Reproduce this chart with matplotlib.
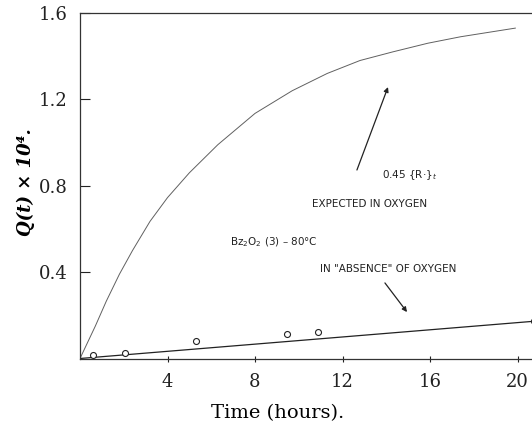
import matplotlib
matplotlib.use("Agg")
import matplotlib.pyplot as plt

# expected curve in oxygen, 0.45 {R.}t  (Q x 10^4 vs hours)
expected_t = [0, 0.7, 1.2, 1.8, 2.4, 3.2, 4.0, 5.0, 6.3, 8.0, 9.7, 11.3, 12.8, 14.3, 15.9, 17.4, 19.9]
expected_q = [0, 0.15, 0.265, 0.39, 0.50, 0.635, 0.745, 0.86, 0.99, 1.135, 1.24, 1.32, 1.38, 1.42, 1.46, 1.49, 1.53]

# fitted line, absence of oxygen
absence_t = [0, 20.7]
absence_q = [0, 0.172]

# measured points
obs_t = [0.6, 2.05, 5.3, 9.45, 10.9, 20.75]
obs_q = [0.016, 0.024, 0.082, 0.113, 0.125, 0.175]

x_ticks = [4, 8, 12, 16, 20]
y_ticks = [0.4, 0.8, 1.2, 1.6]

W, H = 532, 424
fig = plt.figure(figsize=(W / 100, H / 100), dpi=100)
ax = fig.add_axes([80 / W, (H - 358.5) / H, (W - 80) / W, (358.5 - 13) / H])

ax.plot(expected_t, expected_q, color="#606060", lw=0.7)
ax.plot(absence_t, absence_q, color="#222222", lw=0.9)
ax.plot(obs_t, obs_q, "o", ms=4.3, mfc="white", mec="#222222", mew=0.8, clip_on=False)

ax.set_xlim(0, 452 / 21.875)
ax.set_ylim(0, 1.6)
ax.set_xticks(x_ticks)
ax.set_xticklabels([str(v) for v in x_ticks])
ax.set_yticks(y_ticks)
ax.set_yticklabels([f"{v:.1f}" for v in y_ticks])

for lab in ax.get_xticklabels() + ax.get_yticklabels():
    lab.set_family("DejaVu Serif")
    lab.set_fontsize(13)
ax.tick_params(axis="y", direction="in", length=7, width=0.8, pad=9, colors="#222222")
ax.tick_params(axis="x", direction="inout", length=5, width=0.8, pad=8, colors="#222222")

ax.spines["right"].set_visible(False)
for s in ("left", "bottom", "top"):
    ax.spines[s].set_color("#333333")
    ax.spines[s].set_linewidth(0.9)

# annotations
txt = dict(family="DejaVu Sans", fontsize=7.5, ha="left", va="center", color="#222222")
ax.text(13.8, 0.85, r"0.45 {R·}$_t$", **txt)
ax.text(10.6, 0.715, "EXPECTED IN OXYGEN", **txt)
ax.text(6.86, 0.54, r"Bz$_2$O$_2$ (3) – 80°C", **txt)
ax.text(10.97, 0.414, 'IN "ABSENCE" OF OXYGEN', **txt)

arrow = dict(arrowstyle="-|>", lw=0.9, color="#222222", mutation_scale=7, shrinkA=0, shrinkB=0)
ax.annotate("", xy=(14.08, 1.257), xytext=(12.66, 0.873), arrowprops=arrow)
ax.annotate("", xy=(14.95, 0.215), xytext=(13.94, 0.35), arrowprops=arrow)

fig.text(26 / W, 1 - 182 / H, "Q(t) × 10⁴.", family="DejaVu Serif", fontsize=13,
         fontweight="bold", fontstyle="italic", rotation=90, ha="center", va="center")
fig.text(278 / W, 1 - 413 / H, "Time (hours).", family="DejaVu Serif", fontsize=14,
         ha="center", va="center")

fig.savefig("out.png", dpi=100)
